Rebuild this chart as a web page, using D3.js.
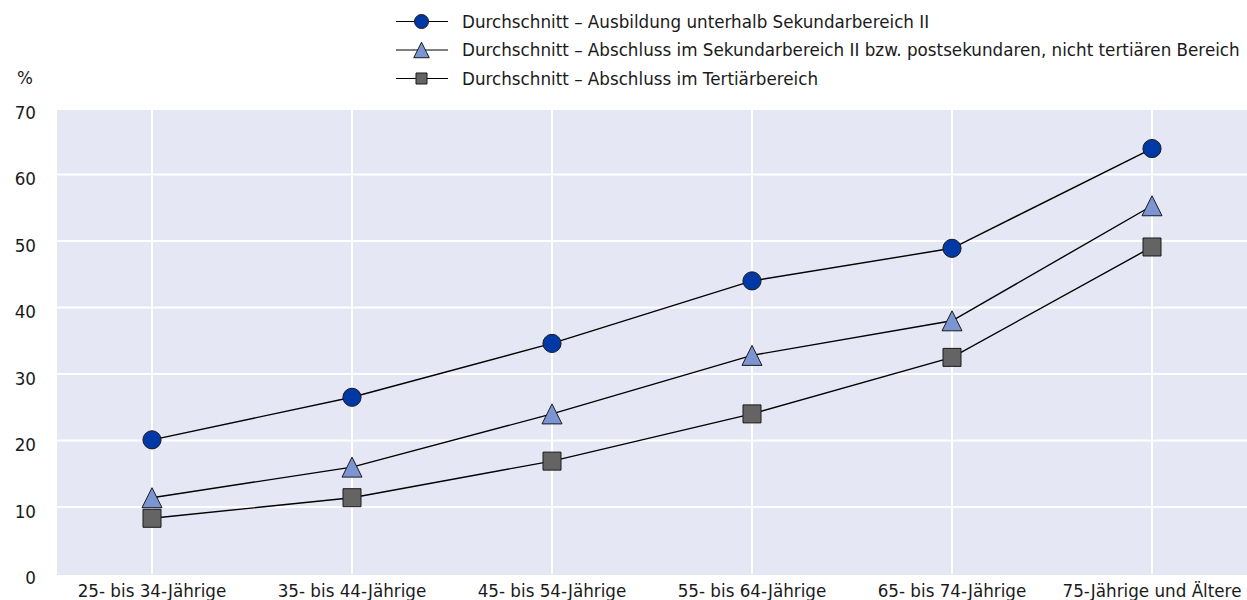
<!DOCTYPE html>
<html>
<head>
<meta charset="utf-8">
<script src="https://cdn.jsdelivr.net/npm/d3@7"></script>
<style>
  body { margin: 0; background: #fff; }
  text { font-family: "DejaVu Sans", sans-serif; fill: #1a1a1a; }
</style>
</head>
<body>
<div id="chart"></div>
<script>
// Data.
var categories = ["25- bis 34-Jährige", "35- bis 44-Jährige", "45- bis 54-Jährige",
    "55- bis 64-Jährige", "65- bis 74-Jährige", "75-Jährige und Ältere"];
var seriesNames = [
    "Durchschnitt – Ausbildung unterhalb Sekundarbereich II",
    "Durchschnitt – Abschluss im Sekundarbereich II bzw. postsekundaren, nicht tertiären Bereich",
    "Durchschnitt – Abschluss im Tertiärbereich"
];
var belowUpperSecondary = [20.1, 26.5, 34.6, 44.0, 48.9, 63.9];
var upperSecondary = [11.4, 16.0, 24.0, 32.8, 38.0, 55.3];
var tertiary = [8.3, 11.4, 16.9, 24.0, 32.5, 49.1];
var yTicks = [0, 10, 20, 30, 40, 50, 60, 70];

var width = 1247, height = 600;
var margin = {top: 108, right: 0, bottom: 26, left: 57};
var fontSize = "16.75px";

// triangle as wide as it is tall, centred on its box
var boxTriangle = {
    draw: function(context, size) {
        var r = Math.sqrt(size) / 2;
        context.moveTo(0, -r);
        context.lineTo(r, r);
        context.lineTo(-r, r);
        context.closePath();
    }
};

var svg = d3.select("#chart").append("svg")
    .attr("width", width)
    .attr("height", height);

var x = d3.scalePoint()
    .domain(categories)
    .range([margin.left, width - margin.right])
    .padding(0.475);

var y = d3.scaleLinear()
    .domain([0, 70])
    .range([height - margin.bottom - 0.5, margin.top]);

// plot background
svg.append("rect")
    .attr("x", margin.left)
    .attr("y", y(70) + 2)
    .attr("width", width - margin.left - margin.right)
    .attr("height", y(0) - y(70) - 0.5)
    .attr("fill", "#e6e7f5");

// gridlines
svg.append("g").selectAll("line")
    .data(yTicks.filter(d => d > 0 && d < 70))
    .enter().append("line")
    .attr("x1", margin.left).attr("x2", width - margin.right)
    .attr("y1", d => y(d)).attr("y2", d => y(d))
    .attr("stroke", "#fff").attr("stroke-width", 2);

svg.append("g").selectAll("line")
    .data(categories)
    .enter().append("line")
    .attr("x1", d => x(d)).attr("x2", d => x(d))
    .attr("y1", y(70) + 2).attr("y2", y(0))
    .attr("stroke", "#fff").attr("stroke-width", 2);

// y axis labels
svg.append("g").selectAll("text")
    .data(yTicks)
    .enter().append("text")
    .attr("x", 36)
    .attr("y", d => y(d) + 10.5)
    .attr("text-anchor", "end")
    .style("font-size", fontSize)
    .text(d => d);

svg.append("text")
    .attr("x", 17).attr("y", 84)
    .style("font-size", fontSize)
    .text("%");

// x axis labels
svg.append("g").selectAll("text")
    .data(categories)
    .enter().append("text")
    .attr("x", d => x(d))
    .attr("y", 597)
    .attr("text-anchor", "middle")
    .style("font-size", fontSize)
    .text(d => d);

var series = [
    {name: seriesNames[0], values: belowUpperSecondary, symbol: d3.symbolCircle, size: 260, legendSize: 154, fill: "#0039a6"},
    {name: seriesNames[1], values: upperSecondary, symbol: boxTriangle, size: 400, legendSize: 240, fill: "#7b95d3"},
    {name: seriesNames[2], values: tertiary, symbol: d3.symbolSquare, size: 324, legendSize: 121, fill: "#646464"}
];

var line = d3.line()
    .x((d, i) => x(categories[i]))
    .y(d => y(d));

series.forEach(s => {
    svg.append("path")
        .attr("d", line(s.values))
        .attr("fill", "none")
        .attr("stroke", "#000")
        .attr("stroke-width", 1.4);
});

series.forEach(s => {
    svg.append("g").selectAll("path")
        .data(s.values)
        .enter().append("path")
        .attr("d", d3.symbol().type(s.symbol).size(s.size))
        .attr("transform", (d, i) => "translate(" + x(categories[i]) + "," + y(d) + ")")
        .attr("fill", s.fill)
        .attr("stroke", "#1a1a1a")
        .attr("stroke-width", 1);
});

// legend
var legend = svg.append("g");
series.forEach((s, i) => {
    var ly = 21.5 + i * 28.5;
    legend.append("line")
        .attr("x1", 396).attr("x2", 448)
        .attr("y1", ly).attr("y2", ly)
        .attr("stroke", "#000").attr("stroke-width", 1.2);
    legend.append("path")
        .attr("d", d3.symbol().type(s.symbol).size(s.legendSize))
        .attr("transform", "translate(421.5," + ly + ")")
        .attr("fill", s.fill)
        .attr("stroke", "#1a1a1a");
    legend.append("text")
        .attr("x", 462).attr("y", ly + 6)
        .style("font-size", fontSize)
        .text(s.name);
});
</script>
</body>
</html>
